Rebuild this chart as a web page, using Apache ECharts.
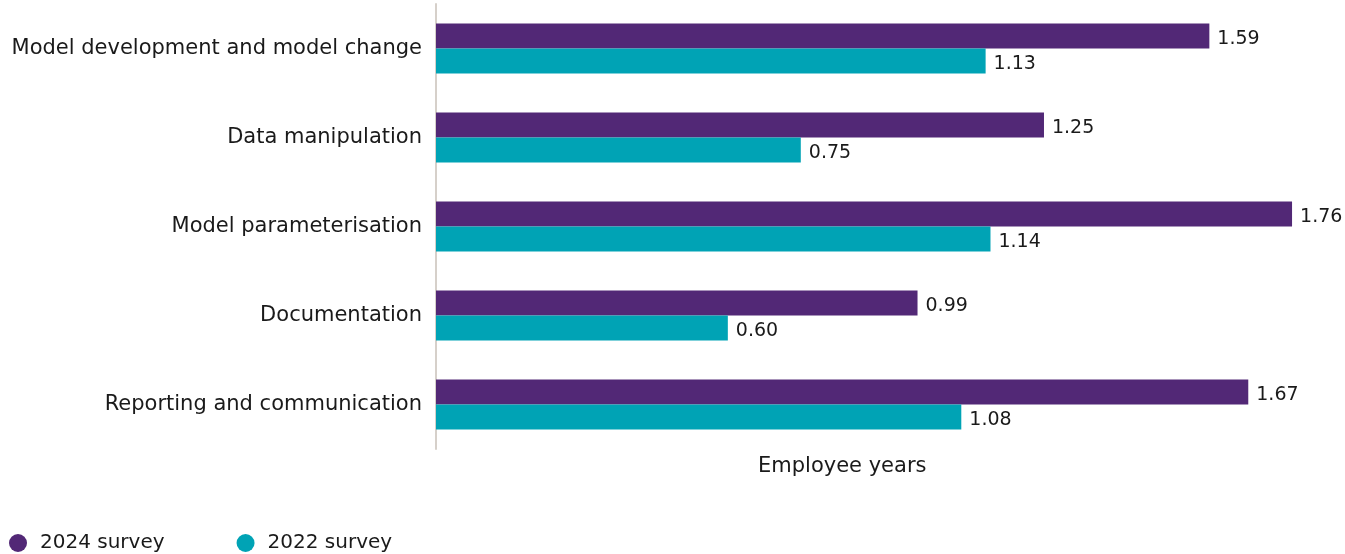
<!DOCTYPE html>
<html>
<head>
<meta charset="utf-8">
<script src="https://cdn.jsdelivr.net/npm/echarts@6/dist/echarts.min.js"></script>
<style>
  html, body { margin: 0; padding: 0; background: #fff; }
  #chart { width: 1345px; height: 554px; }
</style>
</head>
<body>
<div id="chart"></div>
<script>
// 数据
const categories = [
  'Model development and model change',
  'Data manipulation',
  'Model parameterisation',
  'Documentation',
  'Reporting and communication'
]
const survey2024 = [1.59, 1.25, 1.76, 0.99, 1.67]
const survey2022 = [1.13, 0.75, 1.14, 0.60, 1.08]

const fontFamily = '"DejaVu Sans", sans-serif'
const textColor = '#1a1a1a'

// 标签配置
const labelSetting = {
  show: true,
  position: 'right',
  distance: 8,
  offset: [0, 3],
  fontSize: 19,
  fontFamily: fontFamily,
  color: textColor,
  formatter: (p) => p.value.toFixed(2)
}

const chart = echarts.init(document.getElementById('chart'))

const option = {
  animation: false,
  grid: {
    left: 436,
    top: 4,
    height: 445,
    width: 875.5
  },
  legend: {
    left: 4,
    top: 528,
    itemWidth: 18,
    itemHeight: 18,
    itemGap: 72,
    icon: 'circle',
    textStyle: {
      fontSize: 20,
      fontFamily: fontFamily,
      color: textColor,
      padding: [0, 0, 0, 8]
    },
    data: ['2024 survey', '2022 survey']
  },
  xAxis: {
    type: 'value',
    min: 0,
    max: 1.8,
    splitLine: { show: false },
    axisLabel: { show: false },
    axisTick: { show: false },
    axisLine: { show: false }
  },
  yAxis: {
    type: 'category',
    inverse: true,
    data: categories,
    axisTick: { show: false },
    axisLine: { show: true, lineStyle: { color: '#d6d0ca', width: 2 } },
    axisLabel: {
      margin: 14,
      fontSize: 21,
      fontFamily: fontFamily,
      color: textColor
    }
  },
  graphic: [
    {
      type: 'text',
      left: 758,
      top: 456,
      style: {
        text: 'Employee years',
        fontSize: 21,
        fontFamily: fontFamily,
        fill: textColor
      }
    }
  ],
  series: [
    {
      name: '2024 survey',
      type: 'bar',
      data: survey2024,
      barWidth: 25,
      barGap: '0%',
      itemStyle: { color: '#522876' },
      label: labelSetting
    },
    {
      name: '2022 survey',
      type: 'bar',
      data: survey2022,
      barWidth: 25,
      itemStyle: { color: '#00a3b5' },
      label: labelSetting
    }
  ]
}

chart.setOption(option)
</script>
</body>
</html>
